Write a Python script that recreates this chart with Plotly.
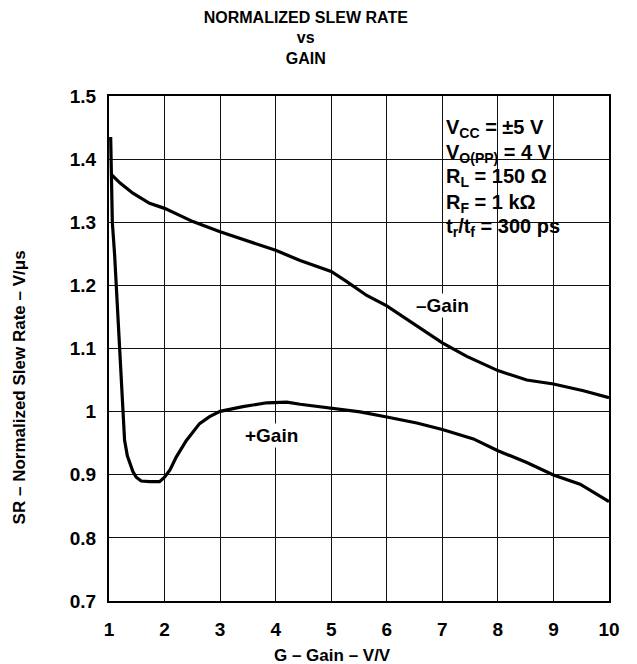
import plotly.graph_objects as go

# +Gain curve
pos_gain_x = [1.03, 1.045, 1.06, 1.10, 1.13, 1.18, 1.24, 1.28, 1.33, 1.375, 1.43, 1.49, 1.58, 1.73, 1.91, 2.0,
              2.1, 2.21, 2.39, 2.63, 2.81, 3.0, 3.41, 3.84, 4.2, 4.44, 5.0, 5.52, 6.0, 6.54, 7.0,
              7.56, 8.0, 8.52, 9.0, 9.48, 10.0]
pos_gain_y = [1.435, 1.37, 1.30, 1.25, 1.20, 1.10, 1.00, 0.955, 0.93, 0.917, 0.905, 0.896, 0.890, 0.889, 0.889, 0.896,
              0.908, 0.928, 0.954, 0.981, 0.992, 1.0005, 1.008, 1.014, 1.015, 1.0117, 1.006, 0.9995, 0.9915, 0.982, 0.9717,
              0.9568, 0.938, 0.9195, 0.8997, 0.885, 0.8576]

# -Gain curve
neg_gain_x = [1.04, 1.2, 1.43, 1.73, 2.0, 2.51, 3.0, 3.53, 4.0, 4.44, 5.0, 5.28, 5.64, 6.0, 6.54, 7.0,
              7.44, 8.0, 8.52, 9.0, 9.54, 10.0]
neg_gain_y = [1.376, 1.362, 1.346, 1.330, 1.322, 1.301, 1.285, 1.269, 1.2555, 1.2395, 1.222, 1.206, 1.184, 1.1675, 1.1355, 1.109,
              1.0875, 1.065, 1.050, 1.0437, 1.033, 1.022]

x_ticks = [1, 2, 3, 4, 5, 6, 7, 8, 9, 10]
y_ticks = [0.7, 0.8, 0.9, 1.0, 1.1, 1.2, 1.3, 1.4, 1.5]
y_tick_text = ["0.7", "0.8", "0.9", "1", "1.1", "1.2", "1.3", "1.4", "1.5"]

conditions = [
    "V<sub>CC</sub> = ±5 V",
    "V<sub>O(PP)</sub> = 4 V",
    "R<sub>L</sub> = 150 Ω",
    "R<sub>F</sub> = 1 kΩ",
    "t<sub>r</sub>/t<sub>f</sub> = 300 ps",
]

FONT = "Arial, 'Liberation Sans', Helvetica, sans-serif"

fig = go.Figure()
fig.add_trace(go.Scatter(x=neg_gain_x, y=neg_gain_y, mode="lines",
                         line=dict(color="black", width=3.2), showlegend=False))
fig.add_trace(go.Scatter(x=pos_gain_x, y=pos_gain_y, mode="lines",
                         line=dict(color="black", width=3.2), showlegend=False))

axis_common = dict(showgrid=True, gridcolor="#111111", gridwidth=1.4,
                   showline=True, linecolor="black", linewidth=2.2, mirror=True,
                   zeroline=False, ticks="",
                   tickfont=dict(family=FONT, size=19, color="black", weight="bold"))

fig.update_xaxes(range=[1, 10], tickvals=x_ticks, ticklabelstandoff=10, **axis_common)
fig.update_yaxes(range=[0.7, 1.5], tickvals=y_ticks, ticktext=y_tick_text, ticklabelstandoff=7, **axis_common)

# white patch behind conditions text
fig.add_shape(type="rect", xref="paper", yref="paper", x0=0.642, x1=0.986, y0=0.691, y1=0.976,
              fillcolor="white", line=dict(width=0), layer="between")

ys = [0.935, 0.887, 0.838, 0.788, 0.739]
for txt, yy in zip(conditions, ys):
    fig.add_annotation(text=txt, xref="paper", yref="paper", x=0.669, y=yy,
                       xanchor="left", yanchor="middle", showarrow=False,
                       font=dict(family=FONT, size=20, color="black", weight="bold"))

fig.add_annotation(text="–Gain", x=7.0, y=1.168, showarrow=False, bgcolor="white",
                   font=dict(family=FONT, size=19, color="black", weight="bold"))
fig.add_annotation(text="+Gain", x=3.93, y=0.962, showarrow=False, bgcolor="white",
                   font=dict(family=FONT, size=19, color="black", weight="bold"))

# axis titles
fig.add_annotation(text="G – Gain – V/V", xref="paper", yref="paper", x=0.447, y=-0.107,
                   xanchor="center", yanchor="middle", showarrow=False,
                   font=dict(family=FONT, size=17, color="black", weight="bold"))
fig.add_annotation(text="SR – Normalized Slew Rate – V/μs", xref="paper", yref="paper",
                   x=-0.179, y=0.422, textangle=-90, xanchor="center", yanchor="middle",
                   showarrow=False,
                   font=dict(family=FONT, size=17, color="black", weight="bold"))

fig.update_layout(
    width=637, height=664,
    margin=dict(l=109, r=28, t=96, b=63),
    plot_bgcolor="white", paper_bgcolor="white",
    title=dict(text="NORMALIZED SLEW RATE<br>vs<br>GAIN", x=0.48, xref="container", xanchor="center",
               y=0.966, yref="container", yanchor="top",
               font=dict(family=FONT, size=16, color="black", weight="bold")),
)

fig.write_html("out.html")
